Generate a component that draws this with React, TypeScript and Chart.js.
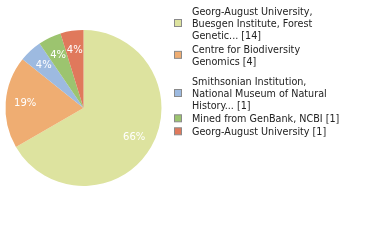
import React, { useEffect, useRef } from 'react';
import { Chart, registerables } from 'chart.js';

Chart.register(...registerables);

const categories: string[] = [
  'Georg-August University, Buesgen Institute, Forest Genetic...',
  'Centre for Biodiversity Genomics',
  'Smithsonian Institution, National Museum of Natural History...',
  'Mined from GenBank, NCBI',
  'Georg-August University',
];
const counts: number[] = [14, 4, 1, 1, 1];
const sliceColors: string[] = ['#dde39f', '#efad72', '#9dbae0', '#9cc46f', '#e0795c'];

const LEGEND_FONT = '10.7px "DejaVu Sans Condensed", "DejaVu Sans", sans-serif';
const LABEL_FONT = '10px "DejaVu Sans", sans-serif';

function wrap(ctx: CanvasRenderingContext2D, text: string, maxW: number): string[] {
  const words = text.split(' ');
  const lines: string[] = [];
  let cur = '';
  for (const w of words) {
    const t = cur ? cur + ' ' + w : w;
    if (cur && ctx.measureText(t).width > maxW) {
      lines.push(cur);
      cur = w;
    } else cur = t;
  }
  if (cur) lines.push(cur);
  return lines;
}

const pieLabels = {
  id: 'pieLabels',
  afterDatasetsDraw(chart: any) {
    const ctx: CanvasRenderingContext2D = chart.ctx;
    const data: number[] = chart.data.datasets[0].data;
    const total = data.reduce((a, b) => a + b, 0);
    const meta = chart.getDatasetMeta(0);
    ctx.save();
    ctx.font = LABEL_FONT;
    ctx.fillStyle = '#ffffff';
    ctx.textAlign = 'center';
    ctx.textBaseline = 'middle';
    meta.data.forEach((arc: any, i: number) => {
      const { x, y, startAngle, endAngle, outerRadius } = arc.getProps(
        ['x', 'y', 'startAngle', 'endAngle', 'outerRadius'],
        true
      );
      const mid = (startAngle + endAngle) / 2;
      const r = outerRadius * 0.75;
      const pct = Math.floor((data[i] / total) * 100);
      ctx.fillText(pct + '%', x + Math.cos(mid) * r, y + Math.sin(mid) * r);
    });
    ctx.restore();
  },
};

const sideLegend = {
  id: 'sideLegend',
  afterDraw(chart: any) {
    const ctx: CanvasRenderingContext2D = chart.ctx;
    const labels: string[] = chart.data.labels;
    const data: number[] = chart.data.datasets[0].data;
    const colors: string[] = chart.data.datasets[0].backgroundColor;
    const itemTops = [15.3, 53, 85.3, 122.3, 135.3];
    const lineH = 11.7;
    ctx.save();
    ctx.font = LEGEND_FONT;
    ctx.textAlign = 'left';
    ctx.textBaseline = 'alphabetic';
    labels.forEach((lab, i) => {
      const lines = wrap(ctx, lab + ' [' + data[i] + ']', 156);
      const base = itemTops[i];
      ctx.fillStyle = '#222222';
      lines.forEach((ln, j) => ctx.fillText(ln, 192, base + j * lineH));
      const midY = base - 4 + ((lines.length - 1) * lineH) / 2;
      ctx.fillStyle = colors[i];
      ctx.fillRect(174.5, midY - 3.5, 7, 7);
      ctx.strokeStyle = '#8a8a8a';
      ctx.lineWidth = 1;
      ctx.strokeRect(174.5, midY - 3.5, 7, 7);
    });
    ctx.restore();
  },
};

export default function App() {
  const ref = useRef<HTMLCanvasElement | null>(null);
  useEffect(() => {
    document.body.style.margin = '0';
    if (!ref.current) return;
    const chart = new Chart(ref.current, {
      type: 'pie',
      data: {
        labels: categories,
        datasets: [
          {
            data: counts,
            backgroundColor: sliceColors,
            borderWidth: 0,
          },
        ],
      },
      options: {
        animation: false,
        responsive: false,
        events: [],
        layout: { padding: { left: 5.5, top: 30, right: 218.5, bottom: 54 } },
        plugins: {
          legend: { display: false },
          tooltip: { enabled: false },
        },
      },
      plugins: [pieLabels, sideLegend],
    });
    return () => chart.destroy();
  }, []);
  return (
    <div style={{ position: 'fixed', left: 0, top: 0, width: 380, height: 240, background: '#fff' }}>
      <canvas ref={ref} width={380} height={240} style={{ width: 380, height: 240 }} />
    </div>
  );
}
